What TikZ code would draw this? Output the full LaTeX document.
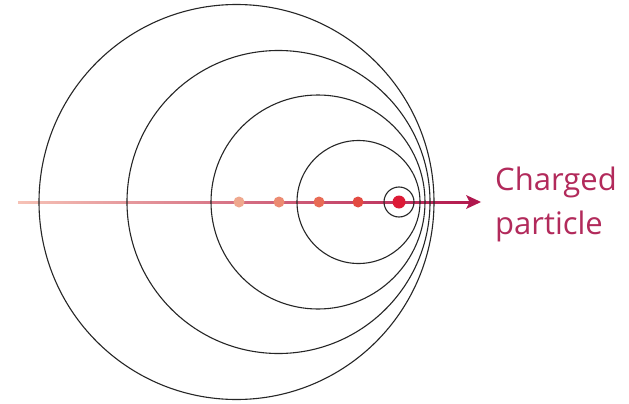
\documentclass[tikz,border=0pt]{standalone}
\usepackage{fontspec}
\setmainfont{Open Sans}
\definecolor{linel}{HTML}{F6C2B6}
\definecolor{liner}{HTML}{B3194E}
\definecolor{arrowc}{HTML}{B0174E}
\definecolor{textc}{HTML}{B22A5B}
\definecolor{wavec}{HTML}{262626}
\definecolor{d1}{HTML}{EFA88E}
\definecolor{d2}{HTML}{EC8B72}
\definecolor{d3}{HTML}{E86B55}
\definecolor{d4}{HTML}{E34B42}
\definecolor{d5}{HTML}{DD1A36}
\tikzset{
  wave/.style={draw=wavec, line width=1.1pt},
  lbl/.style={text=textc, font=\fontsize{31}{36}\selectfont, anchor=base west, inner sep=0pt},
}
\begin{document}
\begin{tikzpicture}[x=1pt,y=-1pt]
\useasboundingbox[fill=white] (0,0) rectangle (629,404);
% trajectory line
\shade[left color=linel, right color=liner] (18,201) rectangle (470,203);
\fill[arrowc] (481,202) -- (466,195) -- (469.5,202) -- (466,209) -- cycle;
% wavefronts
\draw[wave] (236.5,202) circle (197.5);
\draw[wave] (278.5,202) circle (151.5);
\draw[wave] (318,202) circle (107);
\draw[wave] (358.5,202) circle (61.5);
\draw[wave] (399,202) circle (15);
% particle positions
\fill[d1] (239,202) circle (5.5);
\fill[d2] (279,202) circle (5.5);
\fill[d3] (319,202) circle (5.5);
\fill[d4] (358,202) circle (5.5);
\fill[d5] (399,202) circle (6.5);
% label
\node[lbl] (l1) at (495,190) {Charged};
\node[lbl] (l2) at (495,234) {particle};
\end{tikzpicture}
\end{document}
